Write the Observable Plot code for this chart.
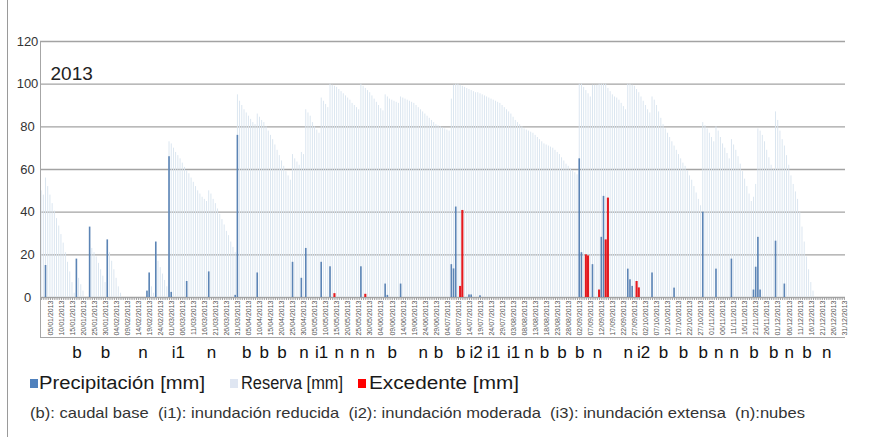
<!DOCTYPE html>
<html>
<head>
<meta charset="utf-8">
<script src="https://cdn.jsdelivr.net/npm/d3@7"></script>
<script src="https://cdn.jsdelivr.net/npm/@observablehq/plot@0.6"></script>
<style>
  html, body { margin: 0; padding: 0; background: #fff; }
  #wrap { position: relative; width: 873px; height: 437px; overflow: hidden; font-family: "Liberation Sans", Arial, sans-serif; }
  #chart { position: absolute; left: 0; top: 0; }
  .box { position: absolute; left: 40px; top: 41px; width: 805px; height: 297px; border-left: 1px solid #a6a6a6; border-bottom: 1px solid #a6a6a6; box-sizing: border-box; pointer-events: none; }
  .frame { position: absolute; left: 7px; top: 0; width: 0; height: 437px; border-left: 1px solid #9a9a9a; }
  .sw { position: absolute; width: 8px; height: 9px; top: 379px; }
  .lt { position: absolute; top: 373px; font-size: 18px; line-height: 20px; color: #1a1a1a; white-space: nowrap; transform-origin: left center; }
  .cap { position: absolute; left: 30px; top: 404px; font-size: 15px; line-height: 18px; color: #333; white-space: nowrap; transform-origin: left center; }
</style>
</head>
<body>
<div id="wrap">
  <div class="frame"></div>
  <div id="chart"></div>
  <div class="box"></div>
  <div class="sw" style="left:30px;background:#4f81bd"></div>
  <div class="lt" id="l1" style="left:39px">Precipitación [mm]</div>
  <div class="sw" style="left:230px;background:#dfe6f2"></div>
  <div class="lt" id="l2" style="left:241px">Reserva [mm]</div>
  <div class="sw" style="left:358px;background:#ff0000"></div>
  <div class="lt" id="l3" style="left:369px">Excedente [mm]</div>
  <div class="cap" id="cap">(b): caudal base&nbsp;&nbsp;(i1): inundación reducida&nbsp;&nbsp;(i2): inundación moderada&nbsp;&nbsp;(i3): inundación extensa&nbsp;&nbsp;(n):nubes</div>
</div>
<script>
// ---------- data (day of year 2013) ----------
const year = 2013;
const yTicks = [0, 20, 40, 60, 80, 100, 120];

const precipDays   = [3, 17, 23, 31, 49, 50, 53, 59, 60, 67, 77, 89, 90, 99, 115, 119, 121, 128, 132, 146, 157, 158, 164, 187, 188, 189, 195, 196, 200, 245, 246, 251, 255, 256, 267, 268, 269, 278, 288, 301, 307, 314, 324, 325, 326, 327, 334, 338];
const precipValues = [15, 18, 33, 27, 3, 11.5, 26, 66, 2.4, 7.5, 12, 1, 76, 11.5, 16.5, 9, 23, 16.5, 14.4, 14.4, 6.3, 1, 6.3, 15.4, 13.4, 42.4, 1.2, 1.2, 0.8, 65, 21, 15.4, 28.2, 47.4, 13.3, 8.3, 5.2, 11.5, 4.4, 40, 13.3, 18, 3.5, 14.2, 28.2, 3.5, 26.4, 6.3];

const excedenteDays   = [134, 148, 191, 192, 248, 249, 254, 257, 258, 271, 272];
const excedenteValues = [1.8, 1.5, 5.2, 40.8, 20, 19.5, 3.5, 27, 46.6, 7.5, 4.5];

const reserva = [
  50, 48, 56, 52, 48, 44, 40.5, 37, 33.5, 29.5,
  25.5, 21, 16.5, 12, 7, 2, 12, 9, 6, 3,
  0, 0, 25, 23, 21, 19, 16, 13, 10, 7,
  24, 21, 17, 13, 9, 5, 2, 0, 0, 0,
  0, 0, 0, 0, 0, 0, 0, 0, 1, 8,
  5, 2, 20, 17, 14, 11, 8, 5, 73, 72,
  70, 68, 66.5, 65, 63, 61, 59.5, 58, 56, 54,
  52, 50, 48.5, 47, 46, 45, 50, 48.5, 46, 44,
  41.5, 39, 36.5, 34, 31, 29, 26, 23.5, 21, 95,
  92, 90, 88, 86.5, 85, 83.5, 82, 81, 86, 84.5,
  83, 82, 80, 78, 76, 74, 71.5, 69, 66.5, 64,
  61.5, 59, 57, 55, 67, 65, 63.5, 62, 68, 67,
  88, 86.5, 85, 82, 80, 78.5, 77, 93.5, 92, 90.5,
  89, 100, 99.5, 99, 98.5, 97.5, 96.5, 95.5, 94.5, 93.5,
  92.5, 91, 90, 89, 88, 100, 99, 98, 97, 96,
  94.5, 93, 91.5, 90, 88.5, 87.5, 95, 94, 93, 92.5,
  92, 91.5, 91, 94, 93.5, 93, 92.5, 92, 91.5, 91,
  90, 89, 88, 87, 86, 85, 84, 83, 82, 81,
  80.5, 80, 79.5, 79, 78.5, 78, 93, 99.5, 100, 100,
  99.5, 99, 98.5, 98, 97.5, 97, 96.5, 96, 96, 95.5,
  95, 94.5, 94, 93.5, 93, 92.5, 92, 91.5, 91, 90,
  89, 88, 87, 86, 84.5, 83, 82, 81, 80, 79,
  78.5, 78, 77.5, 77, 76, 75, 74, 73, 72, 71.5,
  71, 70.5, 70, 69, 68, 67, 65.5, 64, 62.5, 61.5,
  60.5, 59.5, 58.5, 57.5, 100, 100, 98.5, 97, 95.5, 94,
  99.5, 99.5, 99.5, 100, 100, 100, 100, 98, 96.5, 95,
  94, 93.5, 92.5, 91, 89.5, 88, 100, 100, 99.5, 99,
  97.5, 96, 94, 92, 90, 88, 86.5, 94, 92.5, 90,
  87, 84, 81, 79, 77, 75, 73, 71, 69, 67,
  65, 63, 61.5, 59.5, 57, 55, 52, 49, 46, 43,
  82, 80.5, 79, 77, 75, 73, 80, 78, 75, 72,
  70, 67.5, 65, 74, 71.5, 69, 66, 62.5, 59, 55.5,
  52, 48.5, 45, 47, 53, 79, 78, 76, 73, 69,
  65.5, 62, 60, 87, 83, 78, 74, 71, 66.5, 62,
  57, 53, 49.5, 46, 40, 33, 26, 19, 13, 7,
  3, 0, 0, 0, 0, 0, 0, 0, 0, 0,
  0, 0, 0, 0, 0
];

const letterDays  = [17, 30, 47, 63, 78, 94, 102, 110, 120, 128, 136, 143, 150, 160, 174, 181, 191, 198, 206, 215, 222, 229, 237, 245, 253, 267, 274, 283, 292, 301, 308, 315, 324, 333, 340, 348, 357];
const letterCodes = ["b", "b", "n", "i1", "n", "b", "b", "b", "n", "i1", "n", "n", "n", "b", "n", "b", "b", "i2", "i1", "i1", "n", "b", "b", "b", "n", "n", "i2", "b", "b", "b", "n", "n", "b", "b", "n", "b", "n"];

const labelDays = d3.range(5, 366, 5); // 05/01 ... 31/12

// ---------- tables ----------
const days = d3.range(1, 366);
const reservaData = days.map((d, i) => ({day: d, value: reserva[i]}));
const precipData = precipDays.map((d, i) => ({day: d, value: precipValues[i]}));
const excedData = excedenteDays.map((d, i) => ({day: d, value: excedenteValues[i]}));
const letters = letterDays.map((d, i) => ({day: d, code: letterCodes[i]}));
const fmt = d3.timeFormat("%d/%m/%Y");
const dayLabel = d => fmt(new Date(year, 0, d));

const chart = Plot.plot({
  width: 873,
  height: 368,
  marginLeft: 40,
  marginRight: 28,
  marginTop: 41,
  marginBottom: 71,
  style: {fontFamily: "'Liberation Sans', Arial, sans-serif", background: "transparent", overflow: "visible"},
  x: {type: "band", domain: days, padding: 0, axis: null},
  y: {domain: [0, 120], axis: null},
  marks: [
    Plot.gridY(yTicks, {stroke: "#a3a3a3", strokeOpacity: 1, strokeWidth: 1.3}),
    Plot.axisY(yTicks, {tickSize: 0, tickPadding: 13, textAnchor: "middle", fontSize: 13, fill: "#333", label: null}),
    Plot.barY(reservaData, {x: "day", y: "value", fill: "#d8e4ef", insetLeft: 0.65, insetRight: 0.65}),
    Plot.barY(precipData, {x: "day", y: "value", fill: "#5b84b5", insetLeft: 0.3, insetRight: 0.3}),
    Plot.barY(excedData, {x: "day", y: "value", fill: "#e3191f", insetLeft: 0.05, insetRight: 0.05}),
    Plot.axisX(days, {tickSize: 3, tickFormat: () => "", stroke: "#a0a0a0", label: null}),
    Plot.axisX(labelDays, {tickSize: 0, tickPadding: 3, tickRotate: -90, tickFormat: dayLabel, fontSize: 7, fill: "#555", label: null}),
    Plot.text(letters, {x: "day", text: "code", frameAnchor: "bottom", dy: 60, fontSize: 17, fill: "#111"}),
    Plot.text([String(year)], {frameAnchor: "top-left", dx: 10, dy: 25, textAnchor: "start", fontSize: 19, fill: "#222"})
  ]
});
document.getElementById("chart").appendChild(chart);

// fit legend / caption text widths to the reference layout
function fit(id, target) {
  const el = document.getElementById(id);
  const w = el.getBoundingClientRect().width;
  if (w > 0) el.style.transform = `scaleX(${target / w})`;
}
fit("l1", 166);
fit("l2", 102);
fit("l3", 150);
fit("cap", 775);
</script>
</body>
</html>
